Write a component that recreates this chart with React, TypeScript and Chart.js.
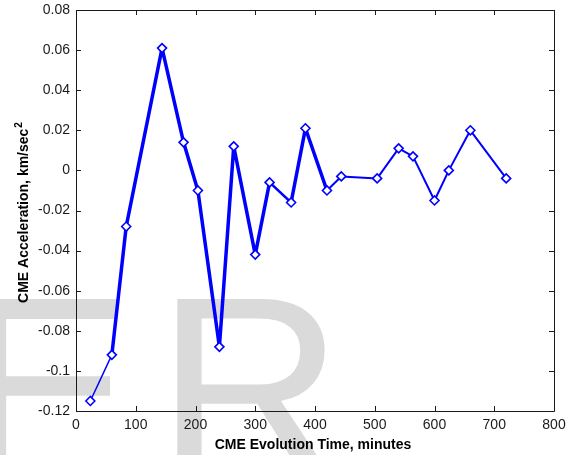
import React, { useEffect, useRef } from "react";
import { Chart, registerables } from "chart.js";

Chart.register(...registerables);

// ---- data ----
const times = [24, 60, 84, 144, 180, 204, 240, 264, 300, 324, 360, 384, 420, 444, 504, 540, 564, 600, 624, 660, 720];
const accel = [-0.115, -0.092, -0.028, 0.061, 0.014, -0.010, -0.088, 0.012, -0.042, -0.006, -0.016, 0.021, -0.010, -0.003, -0.004, 0.011, 0.007, -0.015, 0.000, 0.020, -0.004];
const xTicks = [0, 100, 200, 300, 400, 500, 600, 700, 800];
const yTicks = [-0.12, -0.1, -0.08, -0.06, -0.04, -0.02, 0, 0.02, 0.04, 0.06, 0.08];
const xTitle = "CME Evolution Time, minutes";
const yTitle = "CME Acceleration, km/sec";
const yTitleSup = "2";
const watermarkLetters = ["E", "R"];

const FONT = '"Liberation Sans", Arial, sans-serif';

const framePlugin = {
  id: "matlabFrame",
  beforeDraw(chart: any) {
    const ctx = chart.ctx;
    ctx.save();
    ctx.fillStyle = "#dadada";
    ctx.font = `260px ${FONT}`;
    ctx.textBaseline = "alphabetic";
    ctx.textAlign = "right";
    ctx.fillText(watermarkLetters[0], 134, 478);
    ctx.textAlign = "left";
    ctx.fillText(watermarkLetters[1], 156, 478);
    ctx.restore();
  },
  beforeDatasetsDraw(chart: any) {
    const ctx = chart.ctx;
    const { left, right, top, bottom } = chart.chartArea;
    const xs = chart.scales.x;
    const ys = chart.scales.y;
    const L = 5;
    ctx.save();
    ctx.strokeStyle = "#1a1a1a";
    ctx.lineWidth = 1;
    ctx.beginPath();
    ctx.rect(Math.round(left) + 0.5, Math.round(top) + 0.5, Math.round(right - left), Math.round(bottom - top));
    ctx.stroke();
    ctx.beginPath();
    xTicks.forEach((v) => {
      const px = Math.round(xs.getPixelForValue(v)) + 0.5;
      ctx.moveTo(px, bottom);
      ctx.lineTo(px, bottom - L);
      ctx.moveTo(px, top);
      ctx.lineTo(px, top + L);
    });
    yTicks.forEach((v) => {
      const py = Math.round(ys.getPixelForValue(v)) + 0.5;
      ctx.moveTo(left, py);
      ctx.lineTo(left + L, py);
      ctx.moveTo(right, py);
      ctx.lineTo(right - L, py);
    });
    ctx.stroke();
    ctx.restore();
  },
  afterDraw(chart: any) {
    const ctx = chart.ctx;
    const { left, right, top, bottom } = chart.chartArea;
    ctx.save();
    ctx.fillStyle = "#000";
    // x title
    ctx.font = `bold 14px ${FONT}`;
    ctx.textAlign = "center";
    ctx.textBaseline = "alphabetic";
    ctx.fillText(xTitle, (left + right) / 2 - 2, 449);
    // y title (rotated) with superscript
    const mainFont = `bold 14px ${FONT}`;
    const supFont = `bold 10px ${FONT}`;
    ctx.font = mainFont;
    const w1 = ctx.measureText(yTitle).width;
    ctx.font = supFont;
    const w2 = ctx.measureText(yTitleSup).width;
    const total = w1 + w2 + 1;
    const cy = (top + bottom) / 2 + 2;
    ctx.translate(28, cy);
    ctx.rotate(-Math.PI / 2);
    ctx.textAlign = "left";
    ctx.font = mainFont;
    ctx.fillText(yTitle, -total / 2, 0);
    ctx.font = supFont;
    ctx.fillText(yTitleSup, -total / 2 + w1 + 1, -6);
    ctx.restore();
  },
};

function segWidth(i: number) {
  if (i === 0) return 1.5;
  if (i === 9) return 2.5;
  if (i >= 1 && i <= 11) return 3.5;
  return 2;
}

export default function App() {
  const ref = useRef<HTMLCanvasElement | null>(null);
  useEffect(() => {
    if (!ref.current) return;
    const chart = new Chart(ref.current, {
      type: "line",
      data: {
        datasets: [
          {
            data: times.map((t, i) => ({ x: t, y: accel[i] })),
            borderColor: "#0000ff",
            borderWidth: 2,
            borderJoinStyle: "round",
            borderCapStyle: "round",
            pointStyle: "rectRot",
            pointRadius: 4.5,
            pointBorderWidth: 1.6,
            pointBorderColor: "#0000ff",
            pointBackgroundColor: "#ffffff",
            tension: 0,
            fill: false,
            segment: {
              borderWidth: (c: any) => segWidth(c.p0DataIndex),
            },
          },
        ],
      },
      options: {
        responsive: false,
        animation: false,
        layout: { padding: { top: 10, right: 12, left: 0, bottom: 0 } },
        plugins: {
          legend: { display: false },
          tooltip: { enabled: false },
          title: { display: false },
        },
        scales: {
          x: {
            type: "linear",
            min: 0,
            max: 800,
            grid: { display: false, drawTicks: false },
            border: { display: false },
            afterBuildTicks: (s: any) => {
              s.ticks = xTicks.map((v) => ({ value: v }));
            },
            afterFit: (s: any) => {
              s.height = 44;
              s.paddingLeft = 0;
              s.paddingRight = 0;
            },
            ticks: {
              autoSkip: false,
              maxRotation: 0,
              padding: 6,
              color: "#1a1a1a",
              font: { family: FONT, size: 14 },
              callback: (v: any) => String(v),
            },
          },
          y: {
            type: "linear",
            min: -0.12,
            max: 0.08,
            grid: { display: false, drawTicks: false },
            border: { display: false },
            afterBuildTicks: (s: any) => {
              s.ticks = yTicks.map((v) => ({ value: v }));
            },
            afterFit: (s: any) => {
              s.width = 76;
              s.paddingTop = 0;
              s.paddingBottom = 0;
            },
            ticks: {
              autoSkip: false,
              padding: 6,
              color: "#1a1a1a",
              font: { family: FONT, size: 14 },
              callback: (v: any) => String(Number(Number(v).toFixed(2))),
            },
          },
        },
      },
      plugins: [framePlugin],
    } as any);
    return () => chart.destroy();
  }, []);
  return (
    <div style={{ position: "fixed", left: 0, top: 0, width: 566, height: 455, background: "#fff" }}>
      <canvas ref={ref} width={566} height={455} style={{ display: "block" }} />
    </div>
  );
}
